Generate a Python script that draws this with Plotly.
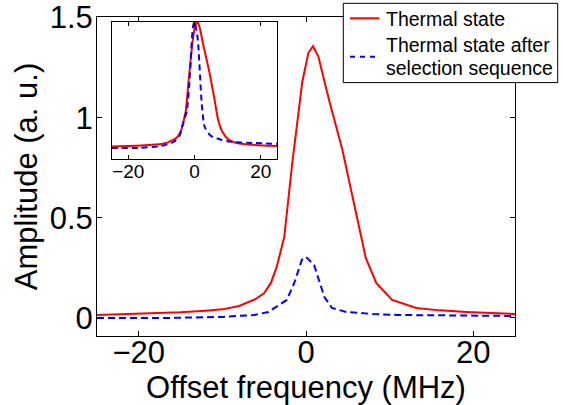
import plotly.graph_objects as go

# Main data (Offset frequency in MHz, amplitude in a.u.)
red_x = [-25, -20, -15, -12, -10, -8, -7, -6, -5, -4.2, -3.5, -2.9, -2.6, -1.64, -0.44,
         0.28, 0.84, 1.47, 2.75, 4.35, 5.95, 7.15, 8.4, 10.3, 13.2, 16, 19.2, 22, 25]
red_y = [0.015, 0.02, 0.028, 0.036, 0.043, 0.06, 0.078, 0.095, 0.125, 0.175, 0.255, 0.355,
         0.405, 0.775, 1.18, 1.323, 1.357, 1.307, 1.09, 0.84, 0.54, 0.3, 0.175, 0.09, 0.05,
         0.038, 0.03, 0.025, 0.02]

blue_x = [-25, -17, -10, -6.2, -4.5, -3.8, -2.3, -1.4, -0.5, 0, 0.96, 2.2, 3.1, 4.8, 8, 11, 18, 25]
blue_y = [0.0, 0.0, 0.005, 0.015, 0.03, 0.05, 0.09, 0.175, 0.29, 0.305, 0.265, 0.105, 0.05,
          0.03, 0.02, 0.015, 0.012, 0.01]

x_ticks = [-20, 0, 20]
y_ticks = [0, 0.5, 1, 1.5]
y_ticklabels = ["0", "0.5", "1", "1.5"]

legend_labels = ["Thermal state", "Thermal state after", "selection sequence"]

# Inset: normalized spectra
red_max = max(red_y)
blue_max = max(blue_y)
red_norm = [v / red_max for v in red_y]
blue_norm = [v / blue_max for v in blue_y]

FONT = "Liberation Sans, Arial, Helvetica, sans-serif"
RED = "#ff0000"
BLUE = "#0000ff"
DASH = "7px,4px"

fig = go.Figure()
fig.add_trace(go.Scatter(x=red_x, y=red_y, mode="lines", name=legend_labels[0], showlegend=False,
                         line=dict(color=RED, width=2), xaxis="x", yaxis="y"))
fig.add_trace(go.Scatter(x=blue_x, y=blue_y, mode="lines", showlegend=False,
                         name=legend_labels[1] + " " + legend_labels[2],
                         line=dict(color=BLUE, width=2, dash=DASH), xaxis="x", yaxis="y"))
fig.add_trace(go.Scatter(x=red_x, y=red_norm, mode="lines", showlegend=False,
                         line=dict(color=RED, width=2, shape="spline", smoothing=0.6),
                         xaxis="x2", yaxis="y2"))
fig.add_trace(go.Scatter(x=blue_x, y=blue_norm, mode="lines", showlegend=False,
                         line=dict(color=BLUE, width=2, dash="6px,4px", shape="spline", smoothing=0.6),
                         xaxis="x2", yaxis="y2"))

W, H = 563, 405
L, R, T, B = 97, 515, 17, 336.5
pw, ph = R - L, B - T

def px_x(p):
    return (p - L) / pw

def px_y(p):
    return (B - p) / ph

# Manual legend box
shapes = [
    dict(type="rect", xref="paper", yref="paper", x0=px_x(343.3), x1=px_x(557.7),
         y0=px_y(82.7), y1=px_y(3.3), line=dict(color="black", width=1), fillcolor="white",
         layer="above"),
    dict(type="line", xref="paper", yref="paper", x0=px_x(350), x1=px_x(379.3),
         y0=px_y(18.3), y1=px_y(18.3), line=dict(color=RED, width=2), layer="above"),
    dict(type="line", xref="paper", yref="paper", x0=px_x(350), x1=px_x(379.3),
         y0=px_y(56.7), y1=px_y(56.7), line=dict(color=BLUE, width=2, dash="5px,5px"),
         layer="above"),
]
annotations = [
    dict(text=legend_labels[0], x=px_x(383.5), y=px_y(19), xref="paper", yref="paper",
         xanchor="left", yanchor="middle", showarrow=False, font=dict(size=19.5, family=FONT)),
    dict(text=legend_labels[1], x=px_x(383.5), y=px_y(45.5), xref="paper", yref="paper",
         xanchor="left", yanchor="middle", showarrow=False, font=dict(size=19.5, family=FONT)),
    dict(text=legend_labels[2], x=px_x(383.5), y=px_y(68.5), xref="paper", yref="paper",
         xanchor="left", yanchor="middle", showarrow=False, font=dict(size=19.5, family=FONT)),
]

fig.update_layout(
    width=W, height=H,
    margin=dict(l=L, r=W - R, t=T, b=H - B, pad=0, autoexpand=False),
    paper_bgcolor="white", plot_bgcolor="white",
    font=dict(family=FONT, color="black"),
    xaxis=dict(range=[-25, 25], tickvals=x_ticks, ticks="inside", ticklen=5,
               tickcolor="black", showline=True, linecolor="black", linewidth=1,
               mirror="ticks", showgrid=False, zeroline=False,
               tickfont=dict(size=31, family=FONT), ticklabelstandoff=-11,
               title=dict(text="Offset frequency (MHz)", font=dict(size=31, family=FONT), standoff=13)),
    yaxis=dict(range=[-0.09, 1.503], tickvals=y_ticks, ticktext=y_ticklabels, ticks="inside",
               ticklen=5, tickcolor="black", showline=True, linecolor="black", linewidth=1,
               mirror="ticks", showgrid=False, zeroline=False,
               tickfont=dict(size=31, family=FONT), ticklabelstandoff=-3,
               title=dict(text="Amplitude (a. u.)", font=dict(size=31, family=FONT), standoff=2)),
    xaxis2=dict(domain=[px_x(111.7), px_x(277.3)], anchor="y2", range=[-25, 25],
                tickvals=x_ticks, ticks="inside", ticklen=4, tickcolor="black",
                showline=True, linecolor="black", linewidth=1, mirror="ticks",
                showgrid=False, zeroline=False, tickfont=dict(size=19, family=FONT),
                ticklabelstandoff=-5),
    yaxis2=dict(domain=[px_y(159.3), px_y(21.7)], anchor="x2", range=[-0.088, 1.0],
                showticklabels=False, ticks="", showline=True, linecolor="black",
                linewidth=1, mirror=True, showgrid=False, zeroline=False),
    shapes=shapes,
    annotations=annotations,
    showlegend=False,
    hovermode=False,
)

fig.write_html("out.html",
               config={"displayModeBar": False},
               post_script="document.body.style.margin='0';document.body.style.padding='0';")
